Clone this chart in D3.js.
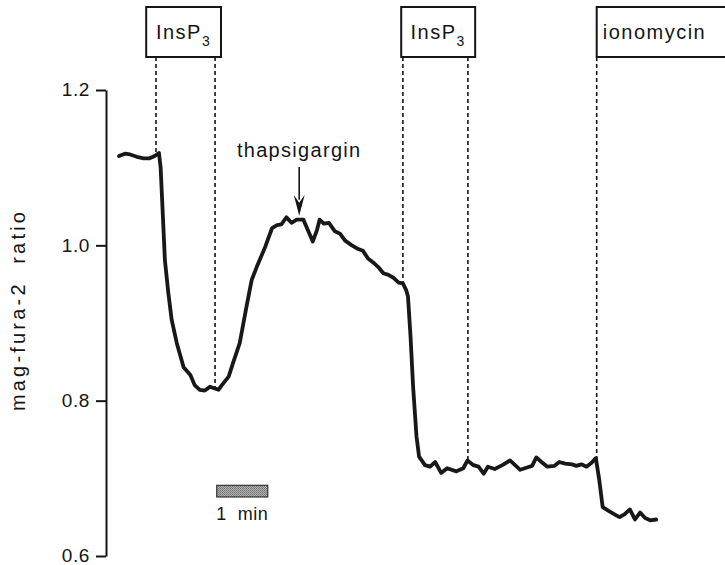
<!DOCTYPE html>
<html>
<head>
<meta charset="utf-8">
<script src="https://cdn.jsdelivr.net/npm/d3@7"></script>
<style>
  body { margin: 0; background: #fff; }
  text { font-family: "Liberation Sans", Arial, Helvetica, sans-serif; fill: #151515; white-space: pre; }
</style>
</head>
<body>
<div id="chart"></div>
<script>
//////////////////////////////
// DATA
//////////////////////////////

// time in seconds from start of the record
const timeSec = [0, 7, 13, 21, 29, 36, 42, 47, 49, 54, 58, 62, 68, 76, 84, 89, 95, 101, 107, 112,
	117, 121, 129, 134, 142, 150, 156, 162, 172, 180, 186, 191, 197, 203, 209, 217, 222, 228, 233, 236,
	241, 247, 254, 260, 266, 274, 280, 287, 293, 299, 305, 311, 317, 323, 329, 334, 338, 340, 343, 346,
	350, 353, 360, 366, 372, 379, 386, 397, 405, 410, 417, 423, 429, 434, 442, 451, 460, 466, 472, 480,
	486, 491, 497, 504, 512, 518, 525, 533, 538, 544, 550, 556, 561, 565, 569, 576, 584, 589, 595, 601,
	607, 613, 619, 625, 632]

// mag-fura-2 ratio
const ratio = [1.115, 1.118, 1.117, 1.114, 1.112, 1.112, 1.115, 1.119, 1.100, 0.981, 0.939, 0.904, 0.874, 0.843, 0.833, 0.820, 0.814, 0.813, 0.818, 0.816,
	0.814, 0.820, 0.831, 0.848, 0.874, 0.921, 0.955, 0.972, 0.998, 1.022, 1.026, 1.027, 1.036, 1.029, 1.033, 1.033, 1.020, 1.005, 1.020, 1.033,
	1.028, 1.029, 1.018, 1.015, 1.006, 1.000, 0.996, 0.993, 0.983, 0.978, 0.972, 0.964, 0.962, 0.958, 0.952, 0.951, 0.942, 0.934, 0.882, 0.818,
	0.754, 0.728, 0.717, 0.715, 0.721, 0.707, 0.713, 0.709, 0.713, 0.723, 0.717, 0.715, 0.706, 0.715, 0.712, 0.717, 0.723, 0.717, 0.711, 0.714,
	0.716, 0.727, 0.721, 0.715, 0.716, 0.721, 0.719, 0.718, 0.716, 0.718, 0.715, 0.720, 0.726, 0.698, 0.663, 0.658, 0.653, 0.650, 0.654, 0.660,
	0.647, 0.656, 0.649, 0.646, 0.647]

const yTicks = [0.6, 0.8, 1.0, 1.2]

// times of the dashed event lines (s)
const eventTimes = [43.5, 113, 334, 410.5, 562]

// stimulus boxes: start / end (s)
const boxNames = ["InsP", "InsP", "ionomycin"]
const boxSubs = ["3", "3", ""]
const boxStart = [32, 332, 562]
const boxEnd = [120, 419, 760]

const thapsTime = 212
const scaleBarTime = [115, 175]
const scaleBarRatio = [0.691, 0.676]

//////////////////////////////
// CHART
//////////////////////////////

const width = 725
const height = 565

const x = d3.scaleLinear().domain([0, 600]).range([119, 629])
const y = d3.scaleLinear().domain([0.6, 1.2]).range([556, 90])

const trace = timeSec.map((t, i) => ({ t: t, r: ratio[i] }))
const bisect = d3.bisector(d => d.t).left
const ratioAt = (t) => {
	let i = bisect(trace, t)
	if (i <= 0) return trace[0].r
	if (i >= trace.length) return trace[trace.length - 1].r
	let a = trace[i - 1], b = trace[i]
	return a.r + (b.r - a.r) * (t - a.t) / (b.t - a.t)
}

let svg = d3.select("#chart").append("svg").attr("width", width).attr("height", height)
	.style("background", "#fff")

let defs = svg.append("defs")
let pat = defs.append("pattern").attr("id", "stip").attr("width", 2).attr("height", 2)
	.attr("patternUnits", "userSpaceOnUse")
pat.append("rect").attr("width", 2).attr("height", 2).attr("fill", "#b5b5b5")
pat.append("rect").attr("width", 1).attr("height", 1).attr("fill", "#6e6e6e")
pat.append("rect").attr("x", 1).attr("y", 1).attr("width", 1).attr("height", 1).attr("fill", "#7e7e7e")

// y axis
let axis = svg.append("g").attr("transform", "translate(106,0)")
	.call(d3.axisLeft(y).tickValues(yTicks).tickFormat(d3.format(".1f")).tickSize(10).tickSizeOuter(0).tickPadding(6))
axis.select(".domain").attr("stroke", "#151515").attr("stroke-width", 2)
axis.selectAll(".tick line").attr("stroke", "#151515").attr("stroke-width", 2)
axis.selectAll(".tick text").style("font-size", "19px").style("letter-spacing", "0.6px")
	.style("font-family", "'Liberation Sans', Arial, sans-serif")
	.attr("fill", "#151515").attr("dy", "0.3em")

svg.append("text")
	.attr("transform", "translate(25,310) rotate(-90)")
	.attr("text-anchor", "middle")
	.style("font-size", "20px").style("letter-spacing", "3.2px")
	.text("mag-fura-2  ratio")

// dashed event lines
svg.selectAll(".event").data(eventTimes).enter().append("line")
	.attr("class", "event")
	.attr("x1", d => x(d)).attr("x2", d => x(d))
	.attr("y1", 57).attr("y2", d => y(ratioAt(d)))
	.attr("stroke", "#151515").attr("stroke-width", 1.6).attr("stroke-dasharray", "4,3")

// boxes
let boxes = svg.selectAll(".box").data(boxNames).enter().append("g").attr("class", "box")
boxes.append("rect")
	.attr("x", (d, i) => x(boxStart[i])).attr("y", 7)
	.attr("width", (d, i) => x(boxEnd[i]) - x(boxStart[i])).attr("height", 50)
	.attr("fill", "#fff").attr("stroke", "#151515").attr("stroke-width", 2)
let labels = boxes.append("text")
	.attr("x", (d, i) => boxSubs[i] ? (x(boxStart[i]) + x(boxEnd[i])) / 2 : x(boxStart[i]) + 6)
	.attr("y", 39)
	.attr("text-anchor", (d, i) => boxSubs[i] ? "middle" : "start")
	.style("font-size", "20px").style("letter-spacing", "1.5px")
labels.append("tspan").text(d => d)
labels.append("tspan").attr("dy", 7).style("font-size", "14px").text((d, i) => boxSubs[i])

// trace
let line = d3.line().x(d => x(d.t)).y(d => y(d.r))
svg.append("path").datum(trace).attr("d", line)
	.attr("fill", "none").attr("stroke", "#181818").attr("stroke-width", 3.8)
	.attr("stroke-linejoin", "round").attr("stroke-linecap", "round")

// thapsigargin arrow
let ax = x(thapsTime)
let tipY = y(ratioAt(thapsTime)) - 4
svg.append("line").attr("x1", ax).attr("x2", ax).attr("y1", 167).attr("y2", tipY - 16)
	.attr("stroke", "#151515").attr("stroke-width", 1.6)
svg.append("path")
	.attr("d", `M${ax - 5.5},${tipY - 21} L${ax},${tipY - 13} L${ax + 5.5},${tipY - 21} L${ax},${tipY} Z`)
	.attr("fill", "#151515")
svg.append("text").attr("x", ax).attr("y", 157).attr("text-anchor", "middle")
	.style("font-size", "20px").style("letter-spacing", "1.3px")
	.text("thapsigargin")

// scale bar
svg.append("rect")
	.attr("x", x(scaleBarTime[0])).attr("y", y(scaleBarRatio[0]))
	.attr("width", x(scaleBarTime[1]) - x(scaleBarTime[0]))
	.attr("height", y(scaleBarRatio[1]) - y(scaleBarRatio[0]))
	.attr("fill", "url(#stip)").attr("stroke", "#333").attr("stroke-width", 1.2)
svg.append("text").attr("x", (x(scaleBarTime[0]) + x(scaleBarTime[1])) / 2).attr("y", 520)
	.attr("text-anchor", "middle").style("font-size", "18px").style("letter-spacing", "0.5px")
	.text("1  min")
</script>
</body>
</html>
